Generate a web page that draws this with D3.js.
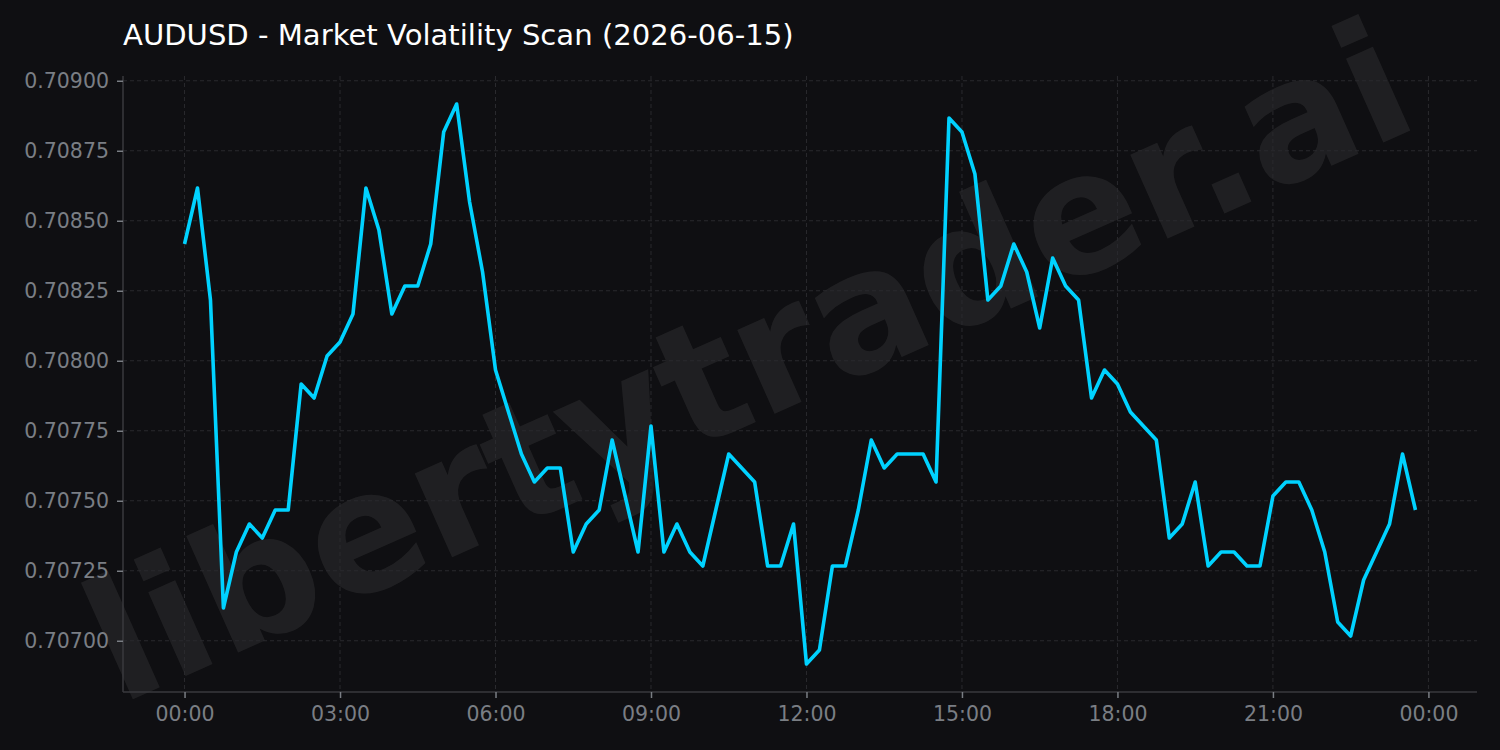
<!DOCTYPE html>
<html>
<head>
<meta charset="utf-8">
<script src="https://cdn.jsdelivr.net/npm/d3@7"></script>
<style>
  html, body { margin: 0; padding: 0; background: #0f0f12; }
  svg { display: block; }
</style>
</head>
<body>
<svg id="chart" width="1500" height="750"></svg>
<script>
const title = "AUDUSD - Market Volatility Scan (2026-06-15)";
const watermark = "libertytrader.ai";
const startTime = "2026-06-15T00:00:00";
const stepMinutes = 15;
const prices = [
  0.708417, 0.708617, 0.708217, 0.707117, 0.707317, 0.707417, 0.707367, 0.707467,
  0.707467, 0.707917, 0.707867, 0.708017, 0.708067, 0.708167, 0.708617, 0.708467,
  0.708167, 0.708267, 0.708267, 0.708417, 0.708817, 0.708917, 0.708567, 0.708317,
  0.707967, 0.707817, 0.707667, 0.707567, 0.707617, 0.707617, 0.707317, 0.707417,
  0.707467, 0.707717, 0.707517, 0.707317, 0.707767, 0.707317, 0.707417, 0.707317,
  0.707267, 0.707467, 0.707667, 0.707617, 0.707567, 0.707267, 0.707267, 0.707417,
  0.706917, 0.706967, 0.707267, 0.707267, 0.707467, 0.707717, 0.707617, 0.707667,
  0.707667, 0.707667, 0.707567, 0.708867, 0.708817, 0.708667, 0.708217, 0.708267,
  0.708417, 0.708317, 0.708117, 0.708367, 0.708267, 0.708217, 0.707867, 0.707967,
  0.707917, 0.707817, 0.707767, 0.707717, 0.707367, 0.707417, 0.707567, 0.707267,
  0.707317, 0.707317, 0.707267, 0.707267, 0.707517, 0.707567, 0.707567, 0.707467,
  0.707317, 0.707067, 0.707017, 0.707217, 0.707317, 0.707417, 0.707667, 0.707467
];
const yTicks = [0.70700, 0.70725, 0.70750, 0.70775, 0.70800, 0.70825, 0.70850, 0.70875, 0.70900];
const xTickHours = [0, 3, 6, 9, 12, 15, 18, 21, 24];

const t0 = new Date(startTime);
const data = prices.map((v, i) => ({ t: new Date(t0.getTime() + i * stepMinutes * 60000), v }));

const W = 1500, H = 750;
const m = { left: 123, right: 1477, top: 76, bottom: 692 };

const svg = d3.select("#chart");
svg.append("rect").attr("width", W).attr("height", H).attr("fill", "#0f0f12");

const tMin = data[0].t, tMax = data[data.length - 1].t;
const tPad = (tMax - tMin) * 0.05;
const x = d3.scaleTime()
  .domain([new Date(+tMin - tPad), new Date(+tMax + tPad)])
  .range([m.left, m.right]);
const vMin = d3.min(prices), vMax = d3.max(prices);
const vPad = (vMax - vMin) * 0.05;
const y = d3.scaleLinear()
  .domain([vMin - vPad, vMax + vPad])
  .range([m.bottom, m.top]);

const xTicks = xTickHours.map(h => new Date(t0.getTime() + h * 3600000));

// watermark
svg.append("text")
  .attr("transform", "translate(748,362) rotate(-24)")
  .attr("text-anchor", "middle")
  .attr("dominant-baseline", "central")
  .attr("font-family", "DejaVu Sans")
  .attr("font-weight", "bold")
  .attr("font-size", 168)
  .attr("fill", "#ffffff")
  .attr("fill-opacity", 0.07)
  .text(watermark);

// grid
const grid = svg.append("g");
grid.selectAll(".gy").data(yTicks).join("line")
  .attr("x1", m.left).attr("x2", m.right)
  .attr("y1", d => y(d)).attr("y2", d => y(d))
  .attr("stroke", "#2a2a2e").attr("stroke-width", 1).attr("stroke-dasharray", "4,3");
grid.selectAll(".gx").data(xTicks).join("line")
  .attr("x1", d => x(d)).attr("x2", d => x(d))
  .attr("y1", m.top).attr("y2", m.bottom)
  .attr("stroke", "#2a2a2e").attr("stroke-width", 1).attr("stroke-dasharray", "4,3");

// axes
const yAxis = svg.append("g")
  .attr("transform", `translate(${m.left},0)`)
  .call(d3.axisLeft(y).tickValues(yTicks).tickFormat(d3.format(".5f")).tickSize(6).tickPadding(8));
const xAxis = svg.append("g")
  .attr("transform", `translate(0,${m.bottom})`)
  .call(d3.axisBottom(x).tickValues(xTicks).tickFormat(d3.timeFormat("%H:%M")).tickSize(6).tickPadding(8));
[yAxis, xAxis].forEach(a => {
  a.select(".domain").attr("stroke", "#3a3a3e").attr("stroke-width", 1.5);
  a.selectAll(".tick line").attr("stroke", "#7a7e84").attr("stroke-width", 1.5);
  a.selectAll(".tick text").attr("fill", "#7a7e84").attr("font-family", "DejaVu Sans").attr("font-size", 20.5);
});
yAxis.select(".domain").attr("d", `M0,${m.bottom}V${m.top}`);
xAxis.select(".domain").attr("d", `M${m.left},0H${m.right}`);

// line
svg.append("path")
  .datum(data)
  .attr("fill", "none")
  .attr("stroke", "#00d2ff")
  .attr("stroke-width", 3.6)
  .attr("stroke-linejoin", "round")
  .attr("d", d3.line().x(d => x(d.t)).y(d => y(d.v)));

// title
svg.append("text")
  .attr("x", 123).attr("y", 45)
  .attr("font-family", "DejaVu Sans")
  .attr("font-size", 29.1)
  .attr("fill", "#ffffff")
  .text(title);
</script>
</body>
</html>
